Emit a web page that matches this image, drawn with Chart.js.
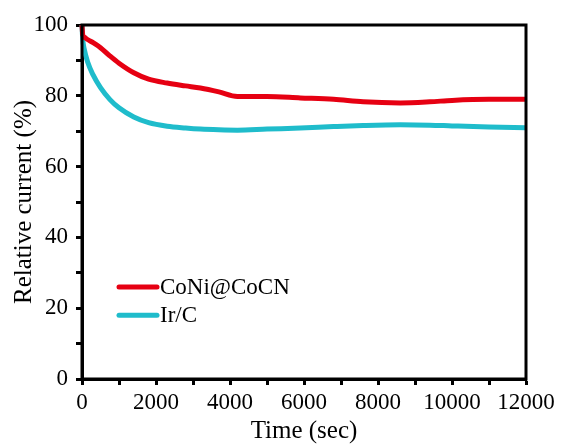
<!DOCTYPE html>
<html>
<head>
<meta charset="utf-8">
<script src="https://cdn.jsdelivr.net/npm/chart.js@4/dist/chart.umd.min.js"></script>
<style>
  html, body { margin: 0; padding: 0; background: #fff; }
  #wrap { width: 561px; height: 446px; }
</style>
</head>
<body>
<div id="wrap"><canvas id="c" width="561" height="446"></canvas></div>
<script>
// Chronoamperometric stability: relative current vs. time
const timeSec = [0, 20, 60, 150, 300, 500, 750, 1000, 1400, 1800, 2300, 2800, 3200, 3700, 4200, 5000, 5900, 6800, 7600, 8600, 9400, 10000, 11000, 12000];
const coniCurrent = [100, 97.2, 96.6, 95.9, 95.0, 93.6, 91.3, 89.2, 86.5, 84.7, 83.6, 82.8, 82.2, 81.1, 79.8, 79.8, 79.4, 79.0, 78.3, 78.0, 78.3, 78.7, 79.0, 79.0];
const irCurrent = [100, 96.0, 93.2, 89.6, 85.9, 82.3, 79.0, 76.6, 74.0, 72.4, 71.4, 70.9, 70.6, 70.4, 70.3, 70.6, 70.9, 71.3, 71.6, 71.8, 71.7, 71.5, 71.2, 71.0];
const seriesNames = ['CoNi@CoCN', 'Ir/C'];
const seriesColors = ['#e60012', '#1fbccb'];
const xTickValues = [0, 2000, 4000, 6000, 8000, 10000, 12000];
const yTickValues = [0, 20, 40, 60, 80, 100];

const FONT = '"Liberation Serif", "Times New Roman", serif';

function pts(ys) { return timeSec.map((t, i) => ({ x: t, y: ys[i] })); }

// Closed frame around the plot plus the in-plot legend
const framePlugin = {
  id: 'frame',
  afterDraw(chart) {
    const { ctx, chartArea: a } = chart;
    ctx.save();
    ctx.strokeStyle = '#000';
    ctx.lineWidth = 3;
    ctx.strokeRect(a.left, a.top, a.right - a.left, a.bottom - a.top);

    const lx = chart.scales.x.getPixelForValue(1000);
    ctx.font = '23px ' + FONT;
    ctx.textBaseline = 'middle';
    chart.data.datasets.forEach((ds, i) => {
      const y = chart.scales.y.getPixelForValue(26 - i * 8);
      ctx.strokeStyle = ds.borderColor;
      ctx.lineWidth = 5;
      ctx.lineCap = 'round';
      ctx.beginPath();
      ctx.moveTo(lx, y);
      ctx.lineTo(lx + 38, y);
      ctx.stroke();
      ctx.fillStyle = '#000';
      ctx.fillText(ds.label, lx + 41, y + 1);
    });
    ctx.restore();
  }
};

new Chart(document.getElementById('c'), {
  type: 'line',
  data: {
    datasets: [
      { label: seriesNames[0], data: pts(coniCurrent), borderColor: seriesColors[0], borderWidth: 5, pointRadius: 0, cubicInterpolationMode: 'monotone', clip: 4 },
      { label: seriesNames[1], data: pts(irCurrent), borderColor: seriesColors[1], borderWidth: 5, pointRadius: 0, cubicInterpolationMode: 'monotone', clip: 4 }
    ]
  },
  options: {
    responsive: false,
    animation: false,
    layout: { padding: { top: 25, right: 35, left: 9, bottom: 0 } },
    plugins: { legend: { display: false }, tooltip: { enabled: false } },
    scales: {
      x: {
        type: 'linear', min: 0, max: 12000,
        afterBuildTicks(s) { s.ticks = []; for (let v = 0; v <= 12000; v += 1000) s.ticks.push({ value: v }); },
        afterFit(s) { s.height = 67; },
        border: { display: true, color: '#000', width: 3 },
        grid: { drawOnChartArea: false, drawTicks: true, tickLength: 6, tickWidth: 3, tickColor: '#000' },
        ticks: {
          autoSkip: false, maxRotation: 0, color: '#000', padding: 4,
          font: { family: FONT, size: 23 },
          callback: v => xTickValues.includes(v) ? String(v) : ''
        },
        title: { display: true, text: 'Time (sec)', color: '#000', font: { family: FONT, size: 25 }, padding: { top: 0, bottom: 0 } }
      },
      y: {
        type: 'linear', min: 0, max: 100,
        afterBuildTicks(s) { s.ticks = []; for (let v = 0; v <= 100; v += 10) s.ticks.push({ value: v }); },
        afterFit(s) { s.width = 73; },
        border: { display: true, color: '#000', width: 3 },
        grid: { drawOnChartArea: false, drawTicks: true, tickLength: 6, tickWidth: 3, tickColor: '#000' },
        ticks: {
          autoSkip: false, color: '#000', padding: 8,
          font: { family: FONT, size: 23 },
          callback: v => yTickValues.includes(v) ? String(v) : ''
        },
        title: { display: true, text: 'Relative current (%)', color: '#000', font: { family: FONT, size: 25 }, padding: { top: 0, bottom: 0 } }
      }
    }
  },
  plugins: [framePlugin]
});
</script>
</body>
</html>
